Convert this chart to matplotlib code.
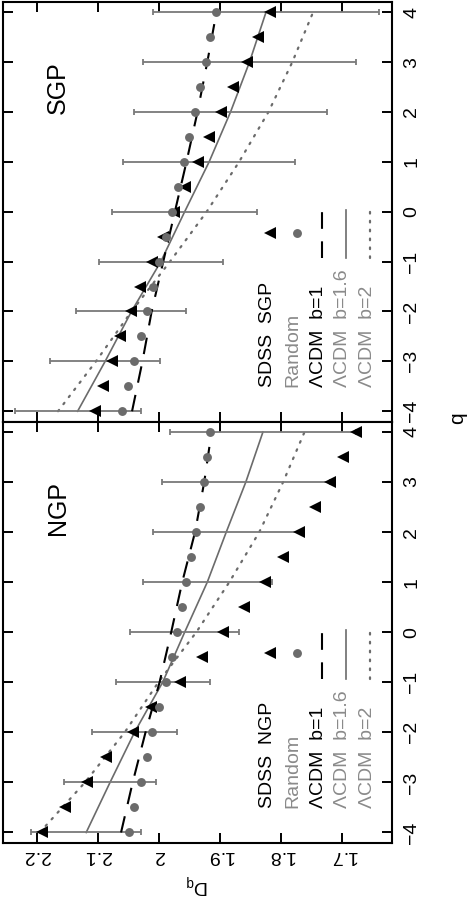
import matplotlib
matplotlib.use('Agg')
import matplotlib.pyplot as plt

plt.rcParams['font.family'] = ['Liberation Sans', 'DejaVu Sans']
plt.rcParams['mathtext.default'] = 'regular'
plt.rcParams['lines.scale_dashes'] = False

# ---------------- data ----------------
q_half = [-4, -3.5, -3, -2.5, -2, -1.5, -1, -0.5, 0, 0.5, 1, 1.5, 2, 2.5, 3, 3.5, 4]
q_int = [-4, -3, -2, -1, 0, 1, 2, 3, 4]

dq_ticks = [2.2, 2.1, 2.0, 1.9, 1.8, 1.7]
dq_ticklabels = ['2.2', '2.1', '2', '1.9', '1.8', '1.7']
q_ticklabels = ['\u22124', '\u22123', '\u22122', '\u22121', '0', '1', '2', '3', '4']

# NGP
ngp_sdss = [2.192, 2.154, 2.117, 2.086, 2.043, 2.013, 1.966, 1.930, 1.895,
            1.861, 1.827, 1.798, 1.771, 1.745, 1.721, 1.699, 1.678]
ngp_random = [2.049, 2.041, 2.030, 2.019, 2.012, 2.000, 1.989, 1.979, 1.971,
              1.963, 1.955, 1.948, 1.940, 1.933, 1.927, 1.921, 1.916]
ngp_b1 = [2.062, 2.043, 2.022, 1.999, 1.980, 1.962, 1.941, 1.926, 1.914]
ngp_b16 = [2.119, 2.080, 2.040, 1.994, 1.958, 1.921, 1.890, 1.858, 1.830]
ngp_b2 = [2.195, 2.121, 2.056, 2.001, 1.939, 1.885, 1.836, 1.797, 1.762]
ngp_err = [0.090, 0.075, 0.070, 0.077, 0.089, 0.105, 0.120, 0.137, 0.152]

# SGP
sgp_sdss = [2.105, 2.092, 2.077, 2.063, 2.045, 2.031, 2.012, 1.993, 1.975,
            1.958, 1.937, 1.918, 1.898, 1.879, 1.856, 1.838, 1.818]
sgp_random = [2.061, 2.050, 2.041, 2.030, 2.020, 2.009, 2.000, 1.989, 1.978,
              1.969, 1.959, 1.951, 1.941, 1.933, 1.923, 1.917, 1.907]
sgp_b1 = [2.044, 2.027, 2.012, 1.993, 1.974, 1.955, 1.937, 1.921, 1.906]
sgp_b16 = [2.133, 2.088, 2.045, 1.997, 1.958, 1.918, 1.883, 1.852, 1.825]
sgp_b2 = [2.165, 2.103, 2.045, 1.982, 1.922, 1.869, 1.821, 1.782, 1.748]
sgp_err = [0.103, 0.090, 0.090, 0.101, 0.119, 0.140, 0.158, 0.174, 0.185]

legend_ngp = ['SDSS  NGP', 'Random', '\u039bCDM  b=1', '\u039bCDM  b=1.6', '\u039bCDM  b=2']
legend_sgp = ['SDSS  SGP', 'Random', '\u039bCDM  b=1', '\u039bCDM  b=1.6', '\u039bCDM  b=2']

GRAY = '#6b6b6b'
EGRAY = '#7a7a7a'
LGRAY = '#8a8a8a'
legend_colors = ['black', LGRAY, 'black', LGRAY, LGRAY]

# ---------------- figure ----------------
W, H = 468, 906
fig = plt.figure(figsize=(W / 100, H / 100), dpi=100)
x0, x1 = 3 / W, 392 / W
y_mid = 1 - 421.7 / H
ax_top = fig.add_axes([x0, y_mid, x1 - x0, (1 - 2 / H) - y_mid])
ax_bot = fig.add_axes([x0, 1 - 843 / H, x1 - x0, y_mid - (1 - 843 / H)])

panels = [
    (ax_top, 'SGP', sgp_sdss, sgp_random, sgp_b1, sgp_b16, sgp_b2, sgp_err, legend_sgp),
    (ax_bot, 'NGP', ngp_sdss, ngp_random, ngp_b1, ngp_b16, ngp_b2, ngp_err, legend_ngp),
]

for ax, name, sdss, rnd, b1, b16, b2, err, leg in panels:
    ax.plot(b2, q_int, color=GRAY, lw=1.6, dashes=(1.2, 5.2), dash_capstyle='round')
    ax.plot(b16, q_int, color=GRAY, lw=1.2)
    ax.errorbar(b16, q_int, xerr=err, fmt='none', ecolor=EGRAY, elinewidth=1.3,
                capsize=2.0, capthick=1.3)
    ax.plot(b1, q_int, color='black', lw=1.5, dashes=(12, 9))
    ax.plot(sdss, q_half, ls='none', marker='<', color='black', ms=8, mew=0)
    ax.plot(rnd, q_half, ls='none', marker='o', color=GRAY, ms=6.4, mew=0)

    ax.set_xlim(2.255, 1.619)
    ax.set_ylim(-4.21, 4.205)
    ax.set_xticks(dq_ticks)
    ax.set_yticks(q_int)
    ax.set_yticklabels(q_ticklabels)
    ax.tick_params(direction='in', length=7, width=1.4, top=True, bottom=True,
                   left=True, right=True, labelleft=False, labelright=True,
                   labelsize=14, colors='black')
    ax.tick_params(axis='y', labelrotation=90, pad=8)
    for sp in ax.spines.values():
        sp.set_linewidth(1.5)
    plt.setp(ax.get_yticklabels(), va='center')

    ax.text(0.141, 0.796, name, transform=ax.transAxes, rotation=90,
            ha='center', va='center', fontsize=18)

    # legend (rotated)
    tx = [0.681, 0.746, 0.810, 0.874, 0.938]
    for xx, lab, col in zip(tx, leg, legend_colors):
        ax.text(xx, 0.083, lab, transform=ax.transAxes, rotation=90,
                ha='center', va='bottom', fontsize=14, color=col)
    ax.plot([0.686], [0.45], transform=ax.transAxes, ls='none', marker='<',
            color='black', ms=8, mew=0)
    ax.plot([0.756], [0.45], transform=ax.transAxes, ls='none', marker='o',
            color=GRAY, ms=6.4, mew=0)
    ax.plot([0.820, 0.820], [0.390, 0.505], transform=ax.transAxes, color='black',
            lw=1.5, dashes=(12, 9))
    ax.plot([0.882, 0.882], [0.390, 0.505], transform=ax.transAxes, color=GRAY, lw=1.2)
    ax.plot([0.943, 0.943], [0.390, 0.505], transform=ax.transAxes, color=GRAY,
            lw=1.6, dashes=(1.2, 5.2), dash_capstyle='round')

ax_top.set_xticklabels(dq_ticklabels)
ax_top.tick_params(axis='x', labelbottom=False)
ax_bot.set_xticklabels(dq_ticklabels)
ax_bot.tick_params(axis='x', labelrotation=180, pad=3)
ax_bot.set_xlabel('D$_q$', rotation=180, fontsize=14, labelpad=6)

fig.text(458 / W, 1 - 418 / H, 'q', rotation=90, ha='center', va='center', fontsize=15)

fig.savefig('out.png', dpi=100)
